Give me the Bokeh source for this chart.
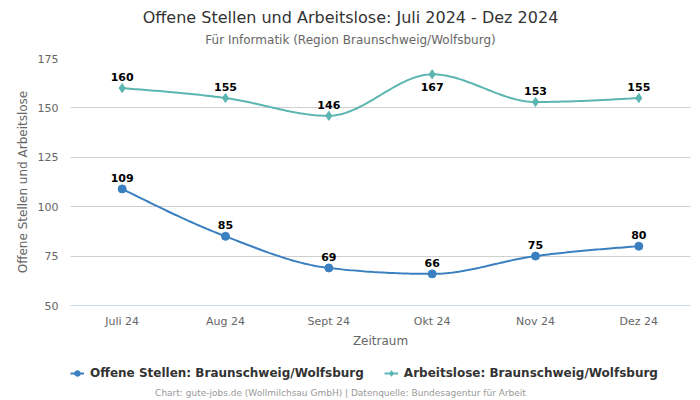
import numpy as np
from bokeh.plotting import figure
from bokeh.layouts import column
from bokeh.models import (ColumnDataSource, FixedTicker, Legend, LegendItem,
                          Range1d, LabelSet, Label)
from bokeh.embed import file_html
from bokeh.resources import INLINE
from bokeh.core.properties import value

months = ["Juli 24", "Aug 24", "Sept 24", "Okt 24", "Nov 24", "Dez 24"]
offene = [109, 85, 69, 66, 75, 80]
arbeitslose = [160, 155, 146, 167, 153, 155]
y_ticks = [50, 75, 100, 125, 150, 175]
series_names = ["Offene Stellen: Braunschweig/Wolfsburg", "Arbeitslose: Braunschweig/Wolfsburg"]

BLUE = "#3a80c0"
TEAL = "#5bb5b0"
FONT = "DejaVu Sans"
W = 700
LEFT = 70    # left border of every panel (frames are aligned in the column)
RIGHT = 10


def monotone(xs, ys, n=40):
    xs = np.asarray(xs, float)
    ys = np.asarray(ys, float)
    h = np.diff(xs)
    s = np.diff(ys) / h
    m = len(xs)
    sg = lambda v: -1.0 if v < 0 else 1.0
    t = np.zeros(m)
    for i in range(1, m - 1):
        h0, h1 = h[i - 1], h[i]
        s0, s1 = s[i - 1], s[i]
        p = (s0 * h1 + s1 * h0) / (h0 + h1)
        t[i] = (sg(s0) + sg(s1)) * min(abs(s0), abs(s1), 0.5 * abs(p))
    t[0] = (3 * s[0] - t[1]) / 2
    t[-1] = (3 * s[-1] - t[-2]) / 2
    ox, oy = [], []
    u = np.linspace(0, 1, n)
    for i in range(m - 1):
        dx = (xs[i + 1] - xs[i]) / 3
        p0 = np.array([xs[i], ys[i]])
        p1 = np.array([xs[i] + dx, ys[i] + dx * t[i]])
        p2 = np.array([xs[i + 1] - dx, ys[i + 1] - dx * t[i + 1]])
        p3 = np.array([xs[i + 1], ys[i + 1]])
        b = ((1 - u) ** 3)[:, None] * p0 + (3 * (1 - u) ** 2 * u)[:, None] * p1 \
            + (3 * (1 - u) * u ** 2)[:, None] * p2 + (u ** 3)[:, None] * p3
        if i > 0:
            b = b[1:]
        ox.extend(b[:, 0])
        oy.extend(b[:, 1])
    return ox, oy


xidx = list(range(len(months)))
xr = Range1d(-0.5, len(months) - 0.5)


def blank(height):
    f = figure(width=W, height=height, x_range=xr, y_range=Range1d(0, 1),
               output_backend="svg", toolbar_location=None,
               x_axis_location=None, y_axis_location=None,
               min_border_left=LEFT, min_border_right=RIGHT,
               min_border_top=0, min_border_bottom=0)
    f.outline_line_color = None
    f.xgrid.visible = False
    f.ygrid.visible = False
    f.border_fill_color = "white"
    f.background_fill_color = "white"
    return f


MID = (W - LEFT - RIGHT) / 2 - (LEFT - RIGHT) / 2  # page centre, in frame pixels

# ---- header (titles)
head = blank(50)
head.add_layout(Label(x=MID, y=33, x_units="screen", y_units="screen",
                      text="Offene Stellen und Arbeitslose: Juli 2024 - Dez 2024",
                      text_align="center", text_baseline="middle", text_font=FONT,
                      text_font_size="16px", text_color="#333333"))
head.add_layout(Label(x=MID, y=11, x_units="screen", y_units="screen",
                      text="Für Informatik (Region Braunschweig/Wolfsburg)",
                      text_align="center", text_baseline="middle", text_font=FONT,
                      text_font_size="12px", text_color="#666666"))

# ---- main chart
p = figure(width=W, height=300, x_range=xr,
           y_range=Range1d(y_ticks[0], y_ticks[-1]), output_backend="svg",
           toolbar_location=None,
           min_border_left=LEFT, min_border_right=RIGHT,
           min_border_top=8, min_border_bottom=45)
p.outline_line_color = None
p.background_fill_color = "white"
p.border_fill_color = "white"
p.xgrid.visible = False
p.ygrid.grid_line_color = "#d0d0d0"
p.ygrid.grid_line_width = 1

p.xaxis.ticker = FixedTicker(ticks=xidx)
p.xaxis.major_label_overrides = {i: m for i, m in enumerate(months)}
p.yaxis.ticker = FixedTicker(ticks=y_ticks)
for ax in (p.xaxis, p.yaxis):
    ax.major_tick_line_color = None
    ax.minor_tick_line_color = None
    ax.major_tick_out = 0
    ax.major_tick_in = 0
    ax.major_label_text_font = FONT
    ax.major_label_text_font_size = "11px"
    ax.major_label_text_color = "#666666"
    ax.axis_label_text_font = FONT
    ax.axis_label_text_font_size = "12px"
    ax.axis_label_text_color = "#666666"
    ax.axis_label_text_font_style = "normal"
p.yaxis.axis_line_color = None
p.xaxis.axis_line_color = "#ccd6eb"
p.xaxis.axis_label = "Zeitraum"
p.yaxis.axis_label = "Offene Stellen und Arbeitslose"
p.yaxis.major_label_standoff = 12
p.xaxis.major_label_standoff = 9
p.yaxis.axis_label_standoff = 5
p.xaxis.axis_label_standoff = 3

sx1, sy1 = monotone(xidx, offene)
sx2, sy2 = monotone(xidx, arbeitslose)

p.line(sx1, sy1, line_color=BLUE, line_width=2)
p.scatter(xidx, offene, marker="circle", size=8, fill_color=BLUE, line_color=BLUE)
p.line(sx2, sy2, line_color=TEAL, line_width=2)
p.scatter(xidx, arbeitslose, marker="diamond", size=9, fill_color=TEAL, line_color=TEAL)

top = y_ticks[-1]
for vals in (offene, arbeitslose):
    offs = [-13 if v > top - 10 else 11 for v in vals]
    src = ColumnDataSource(dict(x=xidx, y=vals, t=[str(v) for v in vals], o=offs))
    p.add_layout(LabelSet(x="x", y="y", text="t", y_offset="o", source=src,
                          text_align="center", text_baseline="middle",
                          text_font=value(FONT), text_font_size="11px",
                          text_font_style="bold", text_color="#000000"))

# ---- footer (legend + credits); hidden copies of the series supply the legend swatches
foot = blank(50)
fl1 = foot.line(xidx, offene, line_color=BLUE, line_width=2, visible=False)
fm1 = foot.scatter(xidx, offene, marker="circle", size=8, fill_color=BLUE,
                   line_color=BLUE, visible=False)
fl2 = foot.line(xidx, arbeitslose, line_color=TEAL, line_width=2, visible=False)
fm2 = foot.scatter(xidx, arbeitslose, marker="diamond", size=9, fill_color=TEAL,
                   line_color=TEAL, visible=False)
legend = Legend(items=[
    LegendItem(label=series_names[0], renderers=[fl1, fm1]),
    LegendItem(label=series_names[1], renderers=[fl2, fm2]),
], orientation="horizontal", location=(0, 17))
legend.border_line_color = None
legend.background_fill_alpha = 0
legend.label_text_font = FONT
legend.label_text_font_size = "12px"
legend.label_text_font_style = "bold"
legend.label_text_color = "#333333"
legend.glyph_width = 14
legend.glyph_height = 20
legend.label_height = 20
legend.label_standoff = 6
legend.spacing = 20
legend.padding = 0
legend.margin = 0
legend.inactive_fill_alpha = 0
foot.add_layout(legend, "center")
foot.add_layout(Label(x=MID - 10, y=8, x_units="screen", y_units="screen",
                      text="Chart: gute-jobs.de (Wollmilchsau GmbH) | Datenquelle: Bundesagentur für Arbeit",
                      text_align="center", text_baseline="middle", text_font=FONT,
                      text_font_size="9px", text_color="#999999"))

layout = column(head, p, foot, spacing=0)
open("out.html", "w").write(file_html(layout, INLINE))
